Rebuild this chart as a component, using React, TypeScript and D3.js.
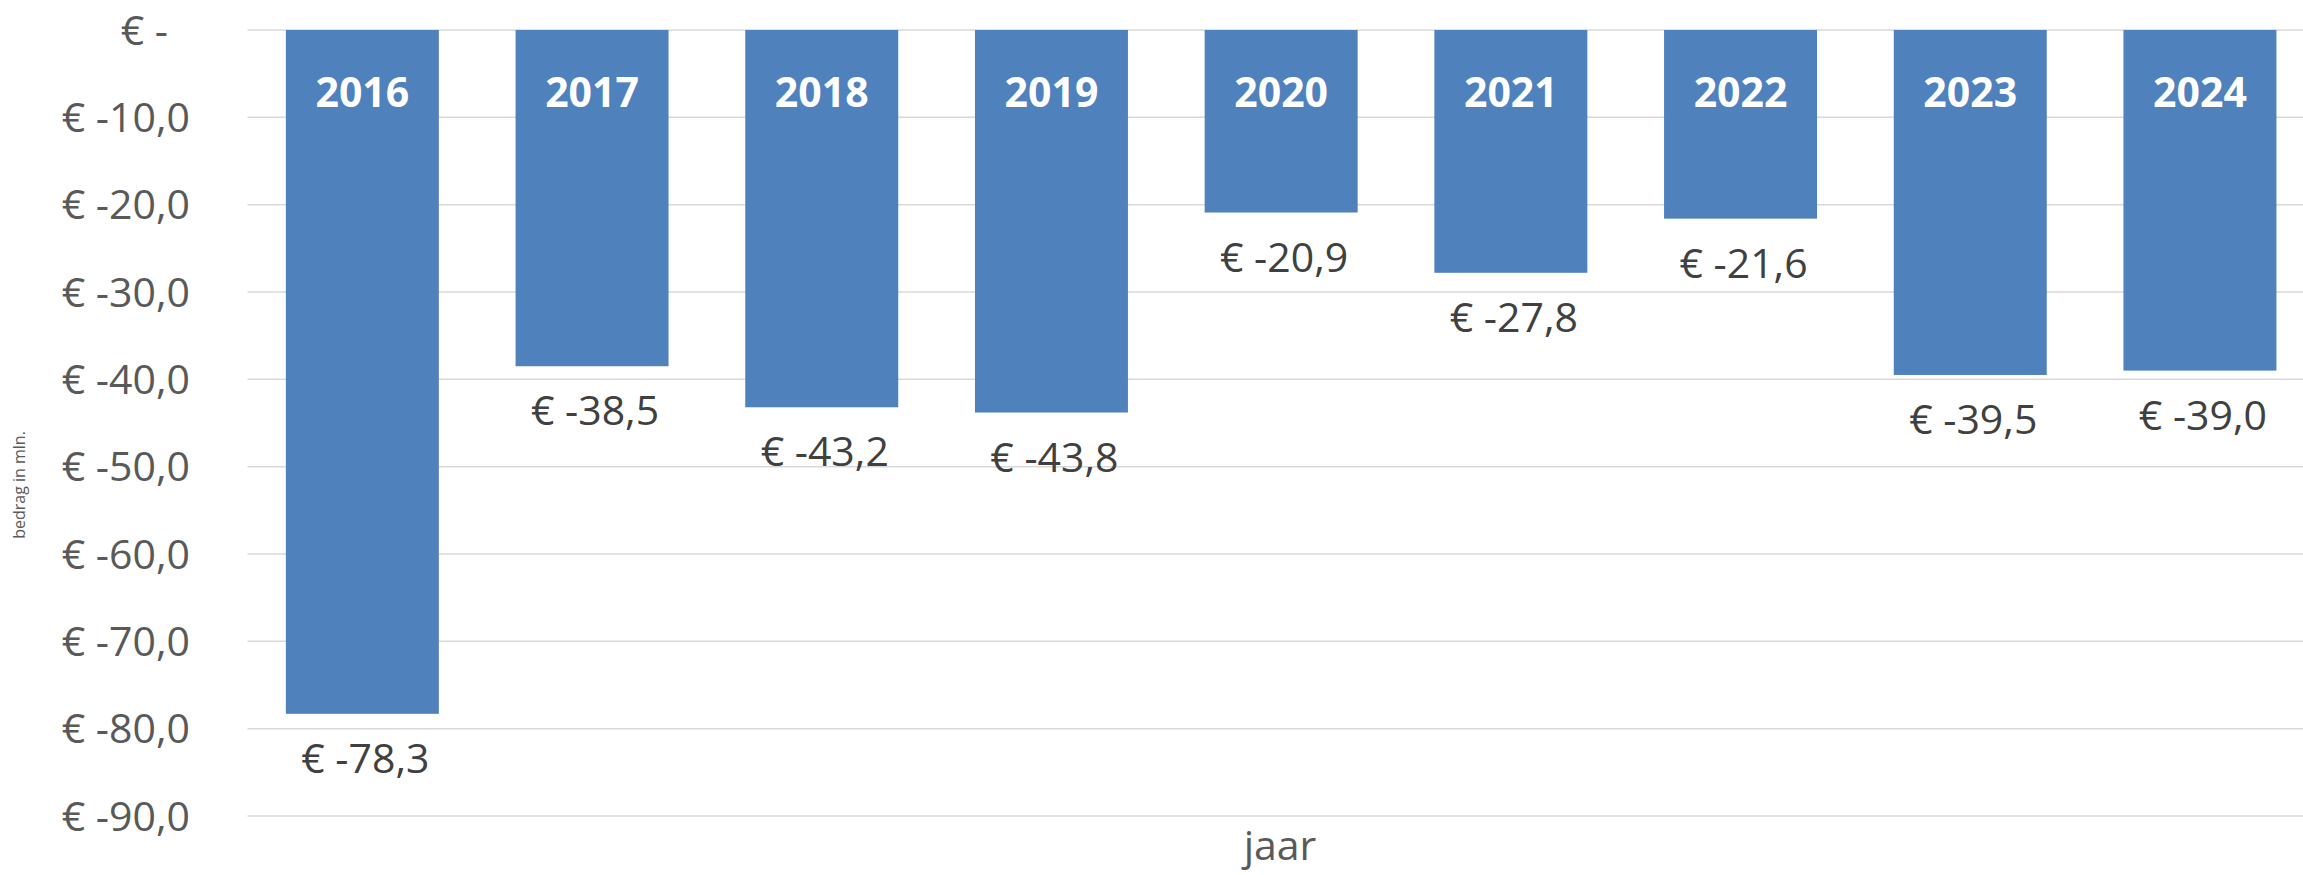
import React from "react";
import * as d3 from "d3";

const years = ["2016", "2017", "2018", "2019", "2020", "2021", "2022", "2023", "2024"];
const values = [-78.3, -38.5, -43.2, -43.8, -20.9, -27.8, -21.6, -39.5, -39.0];
const yTicks = [0, -10, -20, -30, -40, -50, -60, -70, -80, -90];
const yTitle = "bedrag in mln.";
const xTitle = "jaar";

const W = 2303;
const H = 875;
const FONT = "'Open Sans', 'Noto Sans', sans-serif";

const fmt = (v: number) =>
  v === 0 ? "€ -" : "€ " + d3.format(".1f")(v).replace(".", ",").replace("−", "-");

export default function App() {
  const left = 247.5;
  const step = 229.7;
  const x = d3
    .scaleBand<string>()
    .domain(years)
    .range([left, left + step * years.length])
    .paddingInner(0.334)
    .paddingOuter(0.167);
  const y = d3.scaleLinear().domain([0, -90]).range([30, 816]);

  return (
    <svg
      width={W}
      height={H}
      style={{ position: "absolute", left: 0, top: 0, display: "block", background: "#fff" }}
      fontFamily={FONT}
    >
      {yTicks.map((t) => (
        <g key={t}>
          <line x1={left} x2={W} y1={y(t)} y2={y(t)} stroke="#D9D9D9" strokeWidth={1.5} />
          <text
            x={t === 0 ? 168 : 190}
            y={y(t)}
            dy="0.36em"
            textAnchor="end"
            fontSize={41}
            fill="#595959"
          >
            {fmt(t)}
          </text>
        </g>
      ))}
      {years.map((yr, i) => {
        const v = values[i];
        const bx = x(yr)!;
        const bw = x.bandwidth();
        const cx = bx + bw / 2;
        return (
          <g key={yr}>
            <rect x={bx} y={y(0)} width={bw} height={y(v) - y(0)} fill="#4F81BD" />
            <text x={cx} y={107} textAnchor="middle" fontSize={41} fontWeight="bold" fill="#fff">
              {yr}
            </text>
            <text x={cx + 3} y={y(v) + 59} textAnchor="middle" fontSize={41} fill="#404040">
              {fmt(v)}
            </text>
          </g>
        );
      })}
      <text
        transform={`translate(25,${485}) rotate(-90)`}
        textAnchor="middle"
        fontSize={16}
        fill="#595959"
      >
        {yTitle}
      </text>
      <text x={1280} y={860} textAnchor="middle" fontSize={41} fill="#595959">
        {xTitle}
      </text>
    </svg>
  );
}
